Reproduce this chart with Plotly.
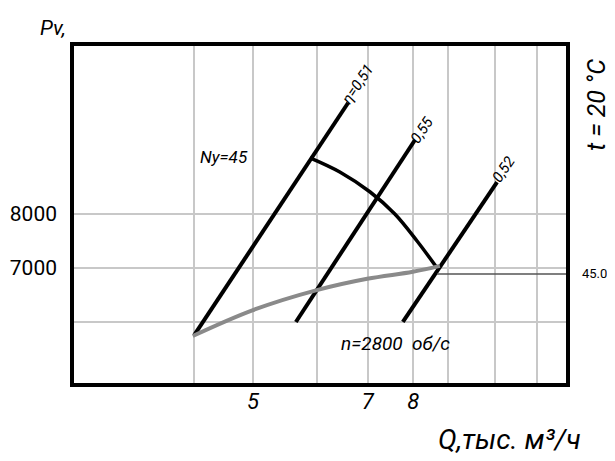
import numpy as np
import plotly.graph_objects as go

# ---- data ----
eta051_q = [4.21, 6.61]
eta051_p = [5760, 10060]
eta055_q = [5.67, 8.04]
eta055_p = [6000, 9370]
eta052_q = [7.76, 10.23]
eta052_p = [6000, 8590]

ny45_q = [5.91, 6.45, 7.05, 7.58, 8.09, 8.58]
ny45_p = [9040, 8778, 8407, 8000, 7500, 7000]

n2800_q = [4.19, 5.0, 6.03, 6.99, 7.99, 8.65]
n2800_p = [5740, 6220, 6590, 6800, 6930, 7040]

power_q = [8.58, 12.6]
power_p = [6890, 6890]
power_label = "45.0"

x_grid = [4.21, 5, 6.03, 7, 8, 8.86, 10.17, 11.5]
x_ticktext = ["", "5", "", "7", "8", "", "", ""]
y_grid = [6000, 7000, 8000]
y_ticktext = ["", "7000", "8000"]

FONT = "Roboto, Noto Sans, sans-serif"

fig = go.Figure()
for q, p in [(eta051_q, eta051_p), (eta055_q, eta055_p), (eta052_q, eta052_p)]:
    fig.add_trace(go.Scatter(x=q, y=p, mode="lines",
                             line=dict(color="black", width=4), hoverinfo="skip"))
fig.add_trace(go.Scatter(x=ny45_q, y=ny45_p, mode="lines",
                         line=dict(color="black", width=3.5, shape="spline", smoothing=1.0),
                         hoverinfo="skip"))
fig.add_trace(go.Scatter(x=n2800_q, y=n2800_p, mode="lines",
                         line=dict(color="#8a8a8a", width=4, shape="spline"), hoverinfo="skip"))
fig.add_trace(go.Scatter(x=power_q, y=power_p, mode="lines",
                         line=dict(color="#555555", width=1.5), hoverinfo="skip"))

annos = []
def ann(text, x, y, size, xref="x", yref="y", angle=0, italic=True, xanchor="center", yanchor="middle"):
    annos.append(dict(text=text, x=x, y=y, xref=xref, yref=yref, showarrow=False,
                      textangle=angle, xanchor=xanchor, yanchor=yanchor,
                      font=dict(family=FONT, size=size, color="black",
                                style="italic" if italic else "normal")))

ann("η=0,51", np.log10(6.80), 10407, 15, angle=-56)
ann("0,55", np.log10(8.21), 9556, 15, angle=-56)
ann("0,52", np.log10(10.41), 8815, 15, angle=-56)
ann("Ny=45", np.log10(4.59), 9056, 17)
ann("n=2800  об/с", np.log10(7.605), 5593, 19)
ann(power_label, 1.025, power_p[0], 13, xref="paper", italic=False, xanchor="left")
ann("Pv,", -0.038, 1.047, 21, xref="paper", yref="paper")
ann("t = 20 °C", 1.056, 0.821, 25, xref="paper", yref="paper", angle=-90)
ann("Q,тыс. м³/ч", 0.883, -0.161, 28, xref="paper", yref="paper")

fig.update_layout(
    width=607, height=453,
    margin=dict(l=64, r=47, t=36, b=76),
    paper_bgcolor="white", plot_bgcolor="white",
    showlegend=False,
    annotations=annos,
    shapes=[dict(type="rect", xref="paper", yref="paper", x0=0, y0=0, x1=1, y1=1,
                 line=dict(color="black", width=4), layer="above")],
    xaxis=dict(type="log", range=[0.4684, 1.10024], tickvals=x_grid, ticktext=x_ticktext,
               showgrid=True, gridcolor="#c8c8c8", gridwidth=1.5, zeroline=False,
               showline=False, ticks="", ticklabelstandoff=1, automargin=False,
               tickfont=dict(family=FONT, size=22, color="black", style="italic")),
    yaxis=dict(range=[4833, 11148], tickvals=y_grid, ticktext=y_ticktext,
               showgrid=True, gridcolor="#c8c8c8", gridwidth=1.5, zeroline=False,
               showline=False, ticks="", ticklabelstandoff=14, automargin=False,
               tickfont=dict(family=FONT, size=21, color="black")),
)
fig.write_html("out.html")
